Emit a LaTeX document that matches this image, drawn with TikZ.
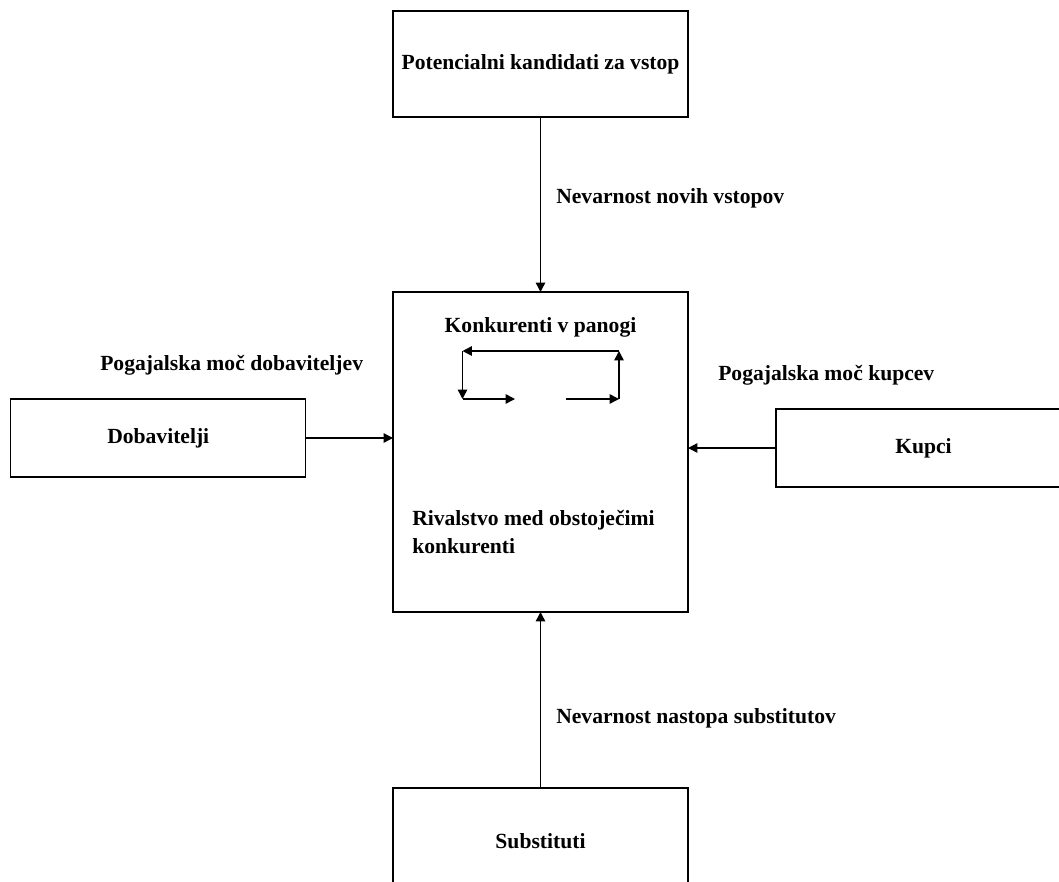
\documentclass[tikz,border=0pt]{standalone}
\usepackage{fontspec}
\setmainfont{Liberation Serif}
\usetikzlibrary{arrows.meta}

\newcommand*{\boxw}{221.25pt}
\newcommand*{\lbl}{\fontsize{16.2}{21}\selectfont\bfseries}

\begin{document}
\begin{tikzpicture}
[
	x=0.75pt,
	y=-0.75pt,
	force/.style={draw,line width=1.1pt,inner sep=0pt,outer sep=0pt,minimum width=\boxw,font=\lbl},
	lab/.style={inner sep=0pt,font=\lbl},
	pull/.style={line width=1.1pt,-{Triangle[length=7pt,width=7pt]}}
]

	\useasboundingbox (0,0) rectangle (1059,881);
	\clip (0,0) rectangle (1059,881);

	% the five forces
	\node[force,minimum height=79.5pt] at (540.5,64) (entrants) {Potencialni kandidati za vstop};
	\node[force,minimum height=240pt] at (540.5,452) (rivals) {};
	\node[force,minimum height=58.5pt] at (158.25,438) (suppliers) {Dobavitelji};
	\node[force,minimum height=58.5pt] at (923.5,448) (buyers) {Kupci};
	\node[force,minimum height=79.5pt] at (540.5,841) (substitutes) {Substituti};

	% texts in the middle box
	\node[lab] at (540.5,327) (industry) {Konkurenti v panogi};
	\node[lab,anchor=north west,align=left] at (412,510) (rivalry) {Rivalstvo med obstoječimi\\konkurenti};

	% labels of the forces
	\node[lab,anchor=west] at (556,198) (threatnew) {Nevarnost novih vstopov};
	\node[lab,anchor=west] at (100,365) (supplierpower) {Pogajalska moč dobaviteljev};
	\node[lab,anchor=west] at (718,375) (buyerpower) {Pogajalska moč kupcev};
	\node[lab,anchor=west] at (556,718) (threatsub) {Nevarnost nastopa substitutov};

	\draw[pull] (entrants) -- (rivals);
	\draw[pull] (suppliers) -- (suppliers -| rivals.west);
	\draw[pull] (buyers) -- (buyers -| rivals.east);
	\draw[pull] (substitutes) -- (rivals);

	% rivalry cycle
	\coordinate (tl) at (462.5,351);
	\coordinate (tr) at (619,351);
	\coordinate (bl) at (462.5,399);
	\coordinate (br) at (619,399);
	\coordinate (ml) at (515,399);
	\coordinate (mr) at (566,399);

	\draw[pull] (tr) -- (tl);
	\draw[pull] (tl) -- (bl);
	\draw[pull] (bl) -- (ml);
	\draw[pull] (mr) -- (br);
	\draw[pull] (br) -- (tr);

\end{tikzpicture}
\end{document}
